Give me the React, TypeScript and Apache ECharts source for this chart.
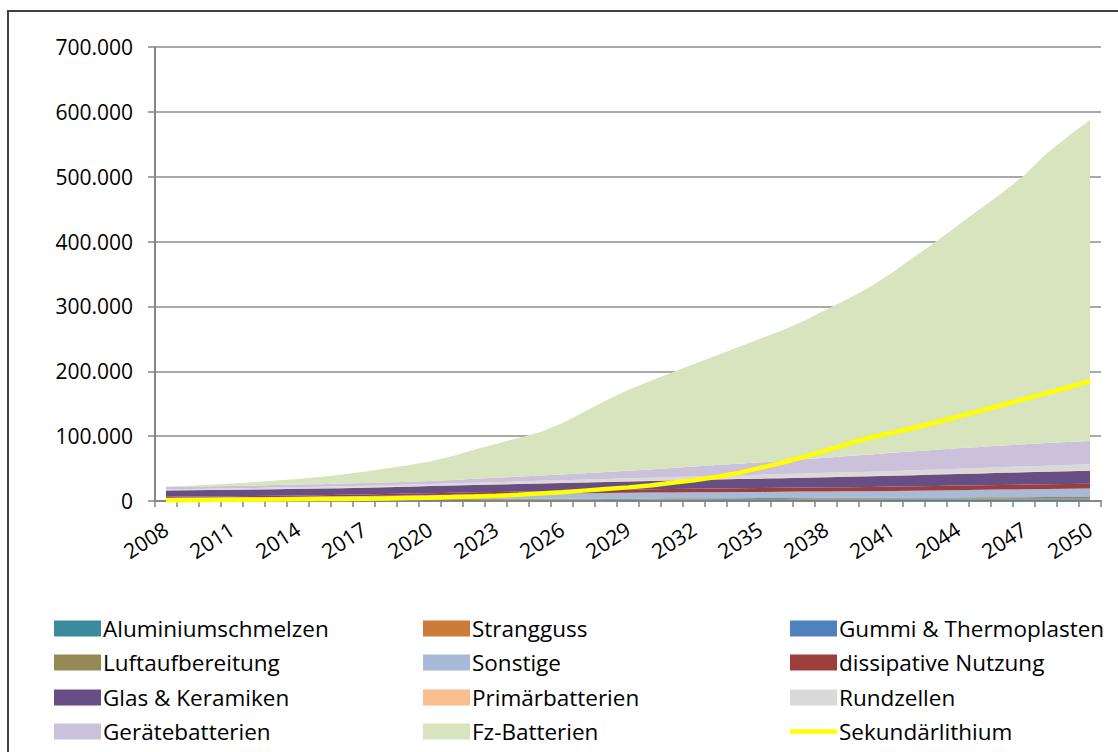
import React, { useEffect, useRef } from "react";
import * as echarts from "echarts";

const years = [
  "2008", "2009", "2010", "2011", "2012", "2013", "2014", "2015", "2016", "2017",
  "2018", "2019", "2020", "2021", "2022", "2023", "2024", "2025", "2026", "2027",
  "2028", "2029", "2030", "2031", "2032", "2033", "2034", "2035", "2036", "2037",
  "2038", "2039", "2040", "2041", "2042", "2043", "2044", "2045", "2046", "2047",
  "2048", "2049", "2050",
];

const yTicks = [0, 100000, 200000, 300000, 400000, 500000, 600000, 700000];

const aluminiumschmelzen = [400, 420, 450, 480, 500, 530, 560, 590, 620, 650, 680, 710, 740, 770, 800, 830, 860, 890, 920, 950, 980, 1010, 1040, 1070, 1100, 1130, 1160, 1190, 1220, 1250, 1280, 1310, 1340, 1370, 1400, 1430, 1460, 1490, 1520, 1550, 1580, 1610, 1640];
const strangguss = [300, 320, 340, 360, 380, 400, 420, 440, 460, 480, 500, 520, 540, 560, 580, 600, 620, 640, 660, 680, 700, 720, 740, 760, 780, 800, 820, 840, 860, 880, 900, 920, 940, 960, 980, 1000, 1030, 1060, 1090, 1120, 1150, 1180, 1200];
const gummi = [300, 320, 350, 380, 410, 440, 470, 500, 530, 560, 590, 620, 650, 680, 710, 740, 770, 800, 830, 860, 890, 920, 950, 980, 1010, 1040, 1070, 1100, 1130, 1160, 1190, 1220, 1250, 1280, 1310, 1340, 1370, 1400, 1420, 1440, 1460, 1480, 1500];
const luftaufbereitung = [600, 630, 660, 690, 720, 750, 780, 810, 840, 870, 900, 930, 960, 990, 1020, 1050, 1080, 1110, 1140, 1170, 1200, 1230, 1260, 1290, 1320, 1350, 1380, 1410, 1440, 1470, 1500, 1530, 1560, 1590, 1620, 1650, 1680, 1710, 1740, 1770, 1800, 1830, 1860];
const sonstige = [3500, 3600, 3700, 3800, 4000, 4200, 4400, 4600, 4900, 5200, 5500, 5800, 6200, 6500, 6800, 7100, 7400, 7700, 8000, 8200, 8500, 8700, 9000, 9100, 9200, 9300, 9400, 9500, 9600, 9700, 9800, 9900, 10000, 10300, 10600, 10900, 11200, 11500, 11800, 12100, 12400, 12700, 13000];
const dissipativ = [1500, 1550, 1600, 1700, 1800, 1900, 2000, 2100, 2200, 2400, 2600, 2800, 3000, 3200, 3400, 3600, 3800, 4000, 4200, 4400, 4600, 4800, 5000, 5200, 5400, 5600, 5800, 6000, 6200, 6300, 6400, 6500, 6600, 6700, 6800, 6900, 7000, 7100, 7200, 7300, 7400, 7450, 7500];
const glasKeramik = [9500, 9600, 9700, 9800, 9900, 10000, 10100, 10200, 10300, 10400, 10500, 10700, 10900, 11100, 11300, 11500, 11700, 11900, 12100, 12300, 12500, 12700, 12900, 13200, 13500, 13800, 14100, 14400, 14700, 15100, 15500, 15900, 16300, 16700, 17100, 17500, 17900, 18300, 18700, 19000, 19300, 19600, 19800];
const primaer = [500, 510, 520, 530, 540, 550, 560, 570, 580, 590, 600, 610, 620, 630, 640, 650, 660, 670, 680, 690, 700, 710, 720, 730, 740, 750, 760, 770, 780, 790, 800, 810, 820, 830, 840, 850, 860, 870, 880, 890, 900, 910, 920];
const rundzellen = [1500, 1600, 1700, 1800, 1900, 2000, 2100, 2200, 2300, 2400, 2500, 2600, 2700, 2800, 2900, 3000, 3200, 3400, 3600, 3800, 4000, 4200, 4400, 4600, 4800, 5000, 5200, 5400, 5600, 5800, 6000, 6200, 6400, 6600, 6800, 7000, 7300, 7600, 7900, 8200, 8500, 8800, 9100];
const geraete = [3500, 3550, 3600, 3650, 3700, 3800, 3900, 4000, 4100, 4200, 4300, 4450, 4600, 5300, 6000, 6700, 7400, 8100, 8800, 9800, 10800, 11800, 12700, 14000, 15300, 16600, 17900, 19000, 20500, 22000, 23500, 25000, 26500, 28000, 29300, 30500, 31500, 32400, 33200, 34000, 34800, 35400, 36000];
const fzBatterien = [400, 1400, 2400, 3800, 5200, 6900, 8700, 11000, 14200, 17300, 21300, 25300, 30100, 36500, 44900, 52200, 59500, 66800, 79100, 94200, 110100, 124200, 136300, 147100, 157900, 168600, 179400, 190400, 201000, 213600, 228100, 242700, 258300, 277700, 299300, 320900, 343700, 366600, 389600, 414600, 445700, 471000, 495500];
const sekundaerlithium = [1000, 1200, 1500, 1800, 2000, 2300, 2600, 2900, 3200, 3600, 4000, 4600, 5200, 6000, 7000, 8200, 9500, 11500, 13500, 16000, 18500, 21000, 24000, 28000, 32000, 37000, 43000, 51000, 59000, 68000, 78000, 88000, 98000, 105000, 113000, 121000, 130000, 139000, 148000, 157000, 166000, 175000, 185000];

const areaSeries = [
  { name: "Aluminiumschmelzen", data: aluminiumschmelzen, color: "#3B8B9E" },
  { name: "Strangguss", data: strangguss, color: "#CC7B38" },
  { name: "Gummi & Thermoplasten", data: gummi, color: "#4F81BD" },
  { name: "Luftaufbereitung", data: luftaufbereitung, color: "#948A54" },
  { name: "Sonstige", data: sonstige, color: "#A9BAD8" },
  { name: "dissipative Nutzung", data: dissipativ, color: "#9B3E3C" },
  { name: "Glas & Keramiken", data: glasKeramik, color: "#674F85" },
  { name: "Primärbatterien", data: primaer, color: "#F9BE8D" },
  { name: "Rundzellen", data: rundzellen, color: "#D9D9D9" },
  { name: "Gerätebatterien", data: geraete, color: "#CCC1DA" },
  { name: "Fz-Batterien", data: fzBatterien, color: "#D7E4BD" },
];
const lineName = "Sekundärlithium";
const lineColor = "#FFFF00";

const legendColumns = [
  ["Aluminiumschmelzen", "Luftaufbereitung", "Glas & Keramiken", "Gerätebatterien"],
  ["Strangguss", "Sonstige", "Primärbatterien", "Fz-Batterien"],
  ["Gummi & Thermoplasten", "dissipative Nutzung", "Rundzellen", "Sekundärlithium"],
];
const legendLefts = [54, 423, 790];
const legendRowCenters = [628, 662, 697, 731];

const FONT = "'Open Sans'";

function fmt(v: number): string {
  if (v === 0) return "0";
  return String(v).replace(/\B(?=(\d{3})+(?!\d))/g, ".");
}

export default function App() {
  const ref = useRef<HTMLDivElement>(null);
  useEffect(() => {
    if (!ref.current) return;
    const chart = echarts.init(ref.current, undefined, { renderer: "svg" });
    const series: any[] = areaSeries.map((s) => ({
      name: s.name,
      type: "line",
      stack: "total",
      data: s.data,
      symbol: "none",
      lineStyle: { width: 0, opacity: 0 },
      areaStyle: { color: s.color, opacity: 1 },
      itemStyle: { color: s.color },
      color: s.color,
      z: 2,
    }));
    series.push({
      name: lineName,
      type: "line",
      data: sekundaerlithium,
      symbol: "none",
      lineStyle: { width: 4.5, color: lineColor },
      itemStyle: { color: lineColor },
      color: lineColor,
      z: 5,
    });
    const legends: any[] = [];
    legendColumns.forEach((names, ci) => {
      names.forEach((n, ri) => {
        legends.push({
          orient: "horizontal",
          left: legendLefts[ci],
          top: legendRowCenters[ri] - 11,
          padding: 0,
          itemWidth: 47,
          itemHeight: 16,
          selectedMode: false,
          textStyle: { fontFamily: FONT, fontSize: 22.5, color: "#000", lineHeight: 22, padding: [0, 0, 0, -3] },
          data: [
            n === lineName
              ? { name: n, icon: "path://M0,0 L10,0 L10,1 L0,1 Z", itemStyle: { color: lineColor } }
              : { name: n, icon: "rect" },
          ],
        });
      });
    });
    chart.setOption({
      animation: false,
      backgroundColor: "#fff",
      grid: { left: 155, right: 17, top: 47, bottom: 251, containLabel: false },
      legend: legends,
      xAxis: {
        type: "category",
        data: years,
        boundaryGap: true,
        axisLine: { lineStyle: { color: "#868686", width: 2 } },
        axisTick: { show: true, interval: 0, length: 6, lineStyle: { color: "#868686", width: 1.5 } },
        axisLabel: {
          interval: 2,
          rotate: 33,
          margin: 26,
          fontFamily: FONT,
          fontSize: 21,
          color: "#000",
        },
        splitLine: { show: false },
      },
      yAxis: {
        type: "value",
        min: yTicks[0],
        max: yTicks[yTicks.length - 1],
        interval: 100000,
        axisLine: { show: true, lineStyle: { color: "#868686", width: 2 } },
        axisTick: { show: true, length: 7, lineStyle: { color: "#868686", width: 1.5 } },
        axisLabel: {
          margin: 22,
          fontFamily: FONT,
          fontSize: 21,
          color: "#000",
          formatter: (v: number) => fmt(v),
        },
        splitLine: { show: true, lineStyle: { color: "#8C8C8C", width: 1.5 } },
      },
      graphic: [
        {
          type: "rect",
          shape: { x: 8, y: 11, width: 1130, height: 770 },
          style: { fill: "none", stroke: "#404040", lineWidth: 2 },
          silent: true,
          z: 100,
        },
      ],
      series,
    });
    return () => chart.dispose();
  }, []);
  return (
    <div
      ref={ref}
      style={{ position: "fixed", left: 0, top: 0, width: 1118, height: 752, background: "#fff" }}
    />
  );
}
